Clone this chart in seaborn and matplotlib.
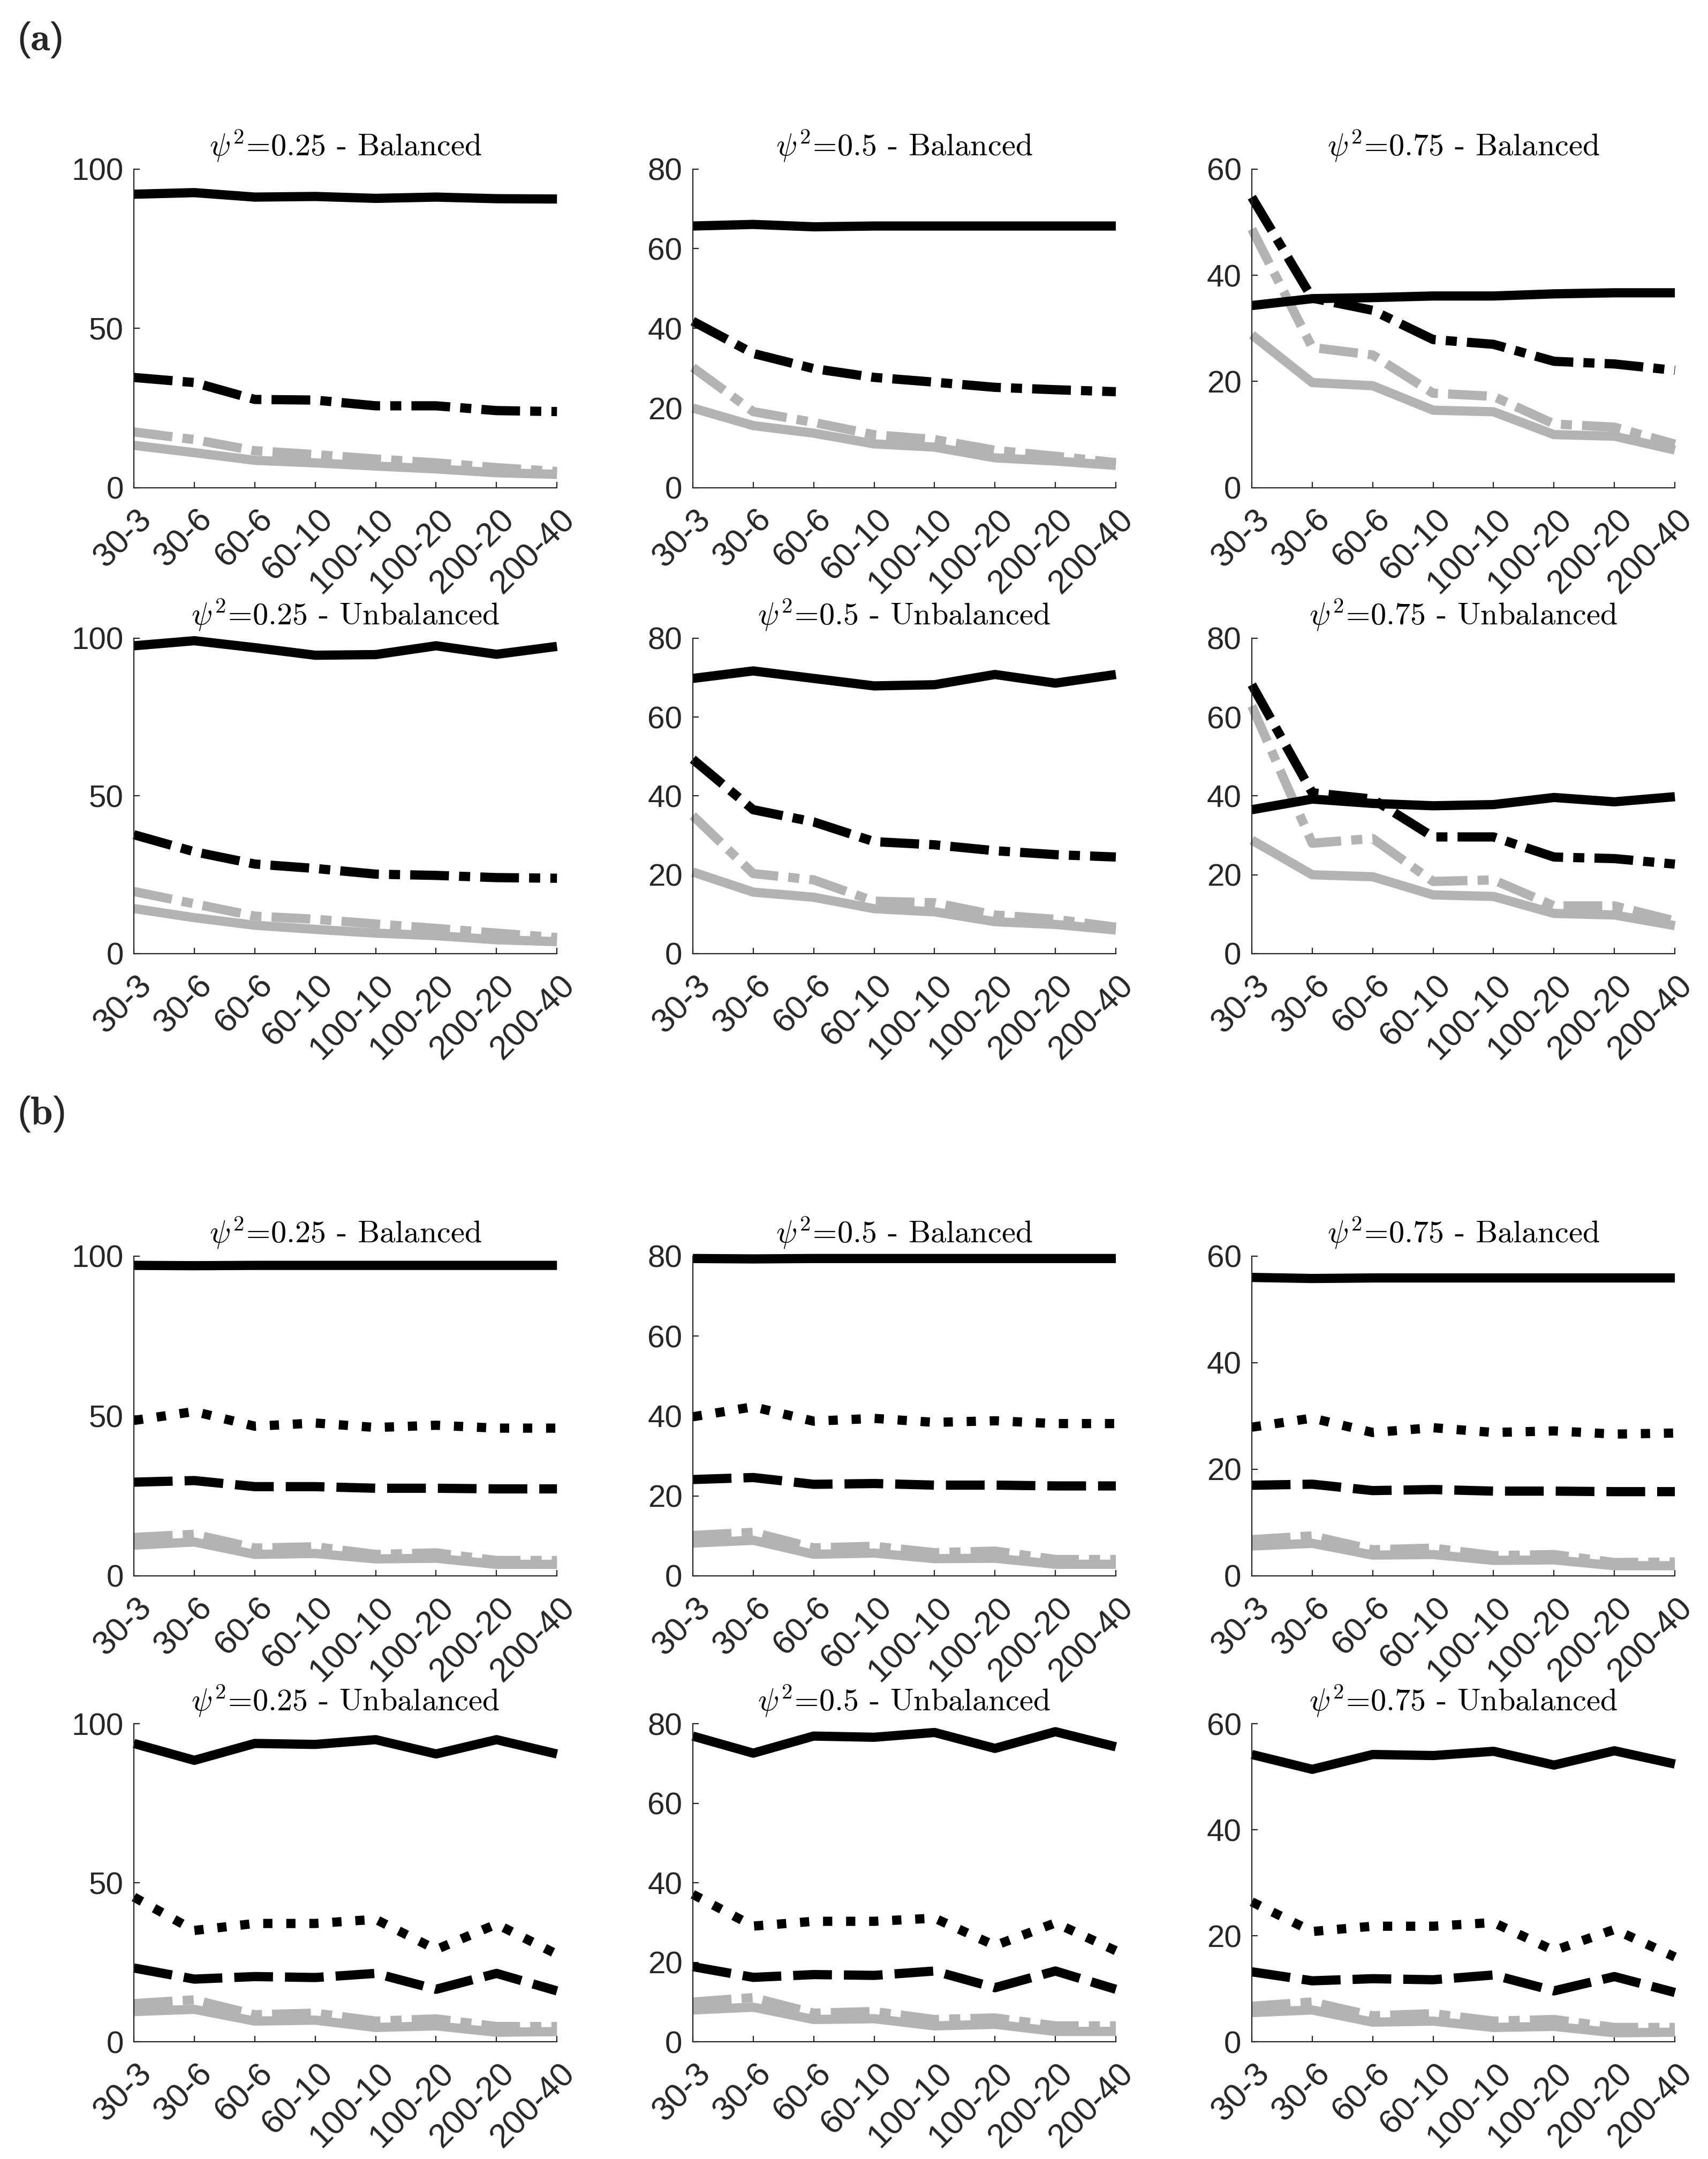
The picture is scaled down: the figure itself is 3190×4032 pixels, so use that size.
import numpy as np
import pandas as pd
import matplotlib
matplotlib.use("Agg")
import matplotlib.pyplot as plt
import matplotlib.transforms as mtransforms
import seaborn as sns

configs = ["30-3", "30-6", "60-6", "60-10", "100-10", "100-20", "200-20", "200-40"]

# ---- panel (a) ----
# psi2 = 0.25 balanced
a1_black = [92.1, 92.6, 91.2, 91.4, 90.8, 91.2, 90.7, 90.6]
a1_black_dd = [34.6, 33.0, 27.7, 27.5, 25.7, 25.7, 24.2, 23.9]
a1_grey_dd = [17.5, 15.1, 11.6, 10.4, 9.0, 7.8, 6.3, 5.1]
a1_grey = [13.3, 11.0, 8.6, 7.8, 6.8, 5.9, 4.7, 4.2]
# psi2 = 0.5 balanced
a2_black = [65.7, 66.1, 65.5, 65.7, 65.7, 65.7, 65.7, 65.7]
a2_black_dd = [41.8, 33.7, 29.9, 27.7, 26.5, 25.2, 24.6, 24.1]
a2_grey_dd = [30.2, 19.1, 16.4, 13.3, 12.1, 9.4, 7.9, 6.3]
a2_grey = [20.0, 15.6, 13.7, 11.0, 10.2, 7.5, 6.7, 5.6]
# psi2 = 0.75 balanced
a3_black = [34.3, 35.6, 35.8, 36.1, 36.1, 36.5, 36.7, 36.7]
a3_black_dd = [54.7, 35.7, 33.4, 27.9, 27.0, 23.8, 23.3, 22.1]
a3_grey_dd = [48.7, 26.4, 25.0, 17.8, 17.2, 12.0, 11.4, 8.2]
a3_grey = [28.8, 19.8, 19.2, 14.6, 14.3, 10.0, 9.7, 7.1]
# psi2 = 0.25 unbalanced
a4_black = [97.6, 99.2, 97.0, 94.6, 94.8, 97.6, 94.9, 97.4]
a4_black_dd = [37.7, 32.3, 28.4, 27.0, 25.2, 24.8, 24.1, 23.9]
a4_grey_dd = [19.7, 15.8, 11.9, 10.9, 9.4, 8.0, 6.5, 5.1]
a4_grey = [14.3, 11.4, 9.0, 7.7, 6.5, 5.7, 4.4, 3.8]
# psi2 = 0.5 unbalanced
a5_black = [69.8, 71.7, 69.8, 67.9, 68.2, 70.8, 68.6, 70.8]
a5_black_dd = [49.3, 36.5, 33.4, 28.4, 27.6, 26.1, 25.1, 24.5]
a5_grey_dd = [35.0, 20.3, 18.7, 13.3, 12.9, 9.8, 8.7, 6.7]
a5_grey = [20.7, 15.6, 14.3, 11.4, 10.6, 8.1, 7.4, 6.0]
# psi2 = 0.75 unbalanced
a6_black = [36.5, 39.2, 38.1, 37.5, 37.8, 39.6, 38.5, 39.8]
a6_black_dd = [68.2, 40.8, 39.2, 29.6, 29.6, 24.5, 24.1, 22.7]
a6_grey_dd = [62.8, 28.0, 29.2, 18.3, 18.7, 12.1, 12.1, 8.3]
a6_grey = [28.8, 20.0, 19.5, 14.9, 14.5, 10.2, 9.8, 7.1]

# ---- panel (b) ----
b1_black = [97.1, 97.0, 97.1, 97.1, 97.1, 97.1, 97.1, 97.1]
b1_black_dot = [48.6, 51.4, 46.8, 47.8, 46.4, 47.1, 46.2, 46.2]
b1_black_dash = [29.3, 29.8, 27.9, 27.9, 27.4, 27.4, 27.2, 27.2]
b1_grey_dd = [12.0, 13.0, 8.7, 9.1, 6.7, 7.2, 4.8, 4.8]
b1_grey = [9.6, 10.6, 6.7, 7.0, 5.3, 5.5, 3.6, 3.6]

b2_black = [79.4, 79.3, 79.4, 79.4, 79.4, 79.4, 79.4, 79.4]
b2_black_dot = [39.8, 42.3, 38.7, 39.4, 38.4, 38.8, 38.1, 38.1]
b2_black_dash = [24.1, 24.6, 22.9, 23.1, 22.7, 22.7, 22.5, 22.5]
b2_grey_dd = [10.1, 10.9, 7.0, 7.4, 5.8, 6.2, 4.1, 4.1]
b2_grey = [8.2, 8.9, 5.4, 5.7, 4.3, 4.4, 2.9, 2.9]

b3_black = [56.0, 55.8, 55.9, 55.9, 55.9, 55.9, 55.9, 55.9]
b3_black_dot = [27.9, 29.6, 26.9, 27.8, 26.9, 27.2, 26.6, 26.8]
b3_black_dash = [17.0, 17.2, 16.0, 16.2, 15.9, 15.9, 15.8, 15.8]
b3_grey_dd = [6.8, 7.5, 4.9, 5.2, 3.8, 4.0, 2.5, 2.6]
b3_grey = [5.6, 6.1, 3.9, 4.0, 2.9, 3.0, 1.9, 1.9]

b4_black = [93.8, 88.5, 93.8, 93.5, 95.0, 90.5, 95.0, 90.5]
b4_black_dot = [45.5, 35.0, 37.2, 37.2, 38.5, 29.0, 37.0, 27.5]
b4_black_dash = [23.2, 19.7, 20.5, 20.2, 21.5, 16.5, 21.5, 16.0]
b4_grey_dd = [12.0, 13.2, 8.5, 9.0, 6.5, 7.2, 4.8, 4.8]
b4_grey = [9.5, 10.2, 6.5, 6.8, 4.5, 5.0, 3.0, 3.2]

b5_black = [76.9, 72.6, 76.9, 76.6, 77.8, 73.8, 78.0, 74.2]
b5_black_dot = [37.1, 29.1, 30.3, 30.3, 31.1, 24.2, 29.9, 22.9]
b5_black_dash = [18.9, 16.2, 16.9, 16.7, 17.8, 13.6, 17.8, 13.2]
b5_grey_dd = [10.0, 11.1, 7.2, 7.6, 5.6, 6.0, 4.0, 4.0]
b5_grey = [8.0, 8.7, 5.6, 5.8, 4.0, 4.4, 2.6, 2.6]

b6_black = [54.2, 51.4, 54.2, 54.0, 54.8, 52.2, 54.9, 52.4]
b6_black_dot = [26.4, 20.8, 21.8, 21.8, 22.5, 17.2, 21.2, 16.0]
b6_black_dash = [13.2, 11.5, 11.9, 11.7, 12.6, 9.6, 12.3, 9.3]
b6_grey_dd = [6.7, 7.5, 4.9, 5.3, 3.9, 4.2, 2.7, 2.7]
b6_grey = [5.5, 6.0, 3.7, 3.9, 2.7, 2.9, 1.7, 1.8]

titles = [r"$\psi^2$=0.25 - Balanced", r"$\psi^2$=0.5 - Balanced", r"$\psi^2$=0.75 - Balanced",
          r"$\psi^2$=0.25 - Unbalanced", r"$\psi^2$=0.5 - Unbalanced", r"$\psi^2$=0.75 - Unbalanced"]

GREY = "#b3b3b3"
styles = {
    "grey": dict(color=GREY, linestyle="-"),
    "grey_dd": dict(color=GREY, linestyle=(0, (4.2, 1.1, 1.2, 1.1))),
    "black_dash": dict(color="black", linestyle=(0, (4.2, 1.3))),
    "black_dot": dict(color="black", linestyle=(0, (1.0, 1.5))),
    "black_dd": dict(color="black", linestyle=(0, (4.2, 1.1, 1.2, 1.1))),
    "black": dict(color="black", linestyle="-"),
}

panels_a = [
    (dict(grey=a1_grey, grey_dd=a1_grey_dd, black_dd=a1_black_dd, black=a1_black), 100, [0, 50, 100]),
    (dict(grey=a2_grey, grey_dd=a2_grey_dd, black_dd=a2_black_dd, black=a2_black), 80, [0, 20, 40, 60, 80]),
    (dict(grey=a3_grey, grey_dd=a3_grey_dd, black_dd=a3_black_dd, black=a3_black), 60, [0, 20, 40, 60]),
    (dict(grey=a4_grey, grey_dd=a4_grey_dd, black_dd=a4_black_dd, black=a4_black), 100, [0, 50, 100]),
    (dict(grey=a5_grey, grey_dd=a5_grey_dd, black_dd=a5_black_dd, black=a5_black), 80, [0, 20, 40, 60, 80]),
    (dict(grey=a6_grey, grey_dd=a6_grey_dd, black_dd=a6_black_dd, black=a6_black), 80, [0, 20, 40, 60, 80]),
]
panels_b = [
    (dict(grey=b1_grey, grey_dd=b1_grey_dd, black_dash=b1_black_dash, black_dot=b1_black_dot, black=b1_black), 100, [0, 50, 100]),
    (dict(grey=b2_grey, grey_dd=b2_grey_dd, black_dash=b2_black_dash, black_dot=b2_black_dot, black=b2_black), 80, [0, 20, 40, 60, 80]),
    (dict(grey=b3_grey, grey_dd=b3_grey_dd, black_dash=b3_black_dash, black_dot=b3_black_dot, black=b3_black), 60, [0, 20, 40, 60]),
    (dict(grey=b4_grey, grey_dd=b4_grey_dd, black_dash=b4_black_dash, black_dot=b4_black_dot, black=b4_black), 100, [0, 50, 100]),
    (dict(grey=b5_grey, grey_dd=b5_grey_dd, black_dash=b5_black_dash, black_dot=b5_black_dot, black=b5_black), 80, [0, 20, 40, 60, 80]),
    (dict(grey=b6_grey, grey_dd=b6_grey_dd, black_dash=b6_black_dash, black_dot=b6_black_dot, black=b6_black), 60, [0, 20, 40, 60]),
]

sns.set_style("ticks")
plt.rcParams["font.family"] = ["Liberation Sans", "DejaVu Sans"]
plt.rcParams["mathtext.fontset"] = "cm"
plt.rcParams["axes.unicode_minus"] = False

DPI = 200
fig = plt.figure(figsize=(3190 / DPI, 4032 / DPI), dpi=DPI)

col_left = [0.0784, 0.4056, 0.7329]
col_w = 0.2477
row_box = [(0.7741, 0.1476), (0.5583, 0.1461), (0.2701, 0.1481), (0.0543, 0.1473)]

x = np.arange(len(configs))
AX_COL = "#262626"
LW = 6.2


def draw_panel(ax, series, ytop, yticks, title):
    for name, vals in series.items():
        df = pd.DataFrame({"x": x, "y": vals})
        sns.lineplot(data=df, x="x", y="y", ax=ax, sort=False, errorbar=None,
                     linewidth=LW, solid_capstyle="butt", dash_capstyle="butt",
                     clip_on=False, **styles[name])
    ax.set_xlim(0, len(configs) - 1)
    ax.set_ylim(0, ytop)
    ax.set_yticks(yticks)
    ax.set_xticks(x)
    ax.set_xlabel("")
    ax.set_ylabel("")
    ax.tick_params(direction="in", length=4, width=0.8, colors=AX_COL)
    ax.tick_params(axis="x", pad=18, labelsize=22.5)
    ax.tick_params(axis="y", pad=7, labelsize=21)
    ax.set_xticklabels(configs, rotation=45, ha="right", va="center", rotation_mode="anchor")
    # shift rotated labels to the right, applied after tick_params so it sticks
    shift = mtransforms.ScaledTranslation(0.12, 0, fig.dpi_scale_trans)
    for lab in ax.get_xticklabels():
        lab.set_transform(lab.get_transform() + shift)
    for sp in ["left", "bottom"]:
        ax.spines[sp].set_color(AX_COL)
        ax.spines[sp].set_linewidth(0.8)
    sns.despine(ax=ax)
    ax.set_title(title, fontfamily="cmr10", fontsize=21, pad=9, color="black")


for group, row_offset in [(panels_a, 0), (panels_b, 2)]:
    for i, (series, ytop, yticks) in enumerate(group):
        r = row_offset + i // 3
        c = i % 3
        bottom, height = row_box[r]
        ax = fig.add_axes([col_left[c], bottom, col_w, height])
        draw_panel(ax, series, ytop, yticks, titles[i])

fig.text(0.010, 0.9814, r"($\mathbf{a}$)", fontsize=27, va="center", ha="left")
fig.text(0.010, 0.4841, r"($\mathbf{b}$)", fontsize=27, va="center", ha="left")

fig.savefig("out.png", dpi=DPI)
